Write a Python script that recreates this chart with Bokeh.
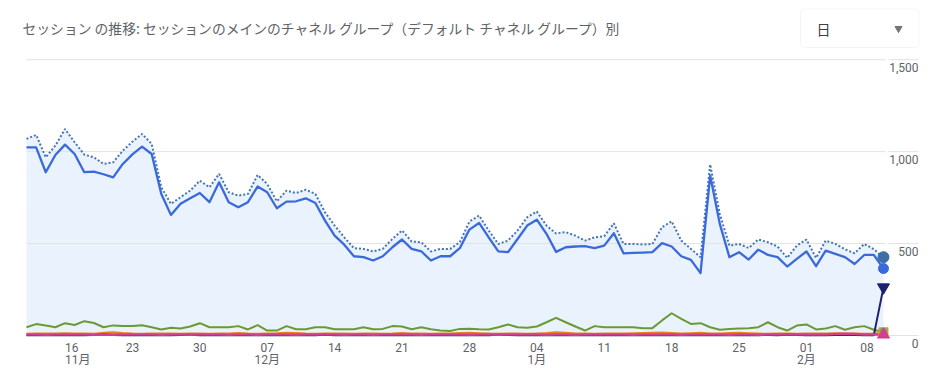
import numpy as np
import pandas as pd
from bokeh.plotting import figure
from bokeh.models import Range1d, ColumnDataSource, LabelSet, BoxAnnotation
from bokeh.core.properties import value
from bokeh.embed import file_html
from bokeh.resources import INLINE

# ---------------- data ----------------
start_date = "2025-11-12"

# dotted line (all sessions)
total_sessions = [
    1069, 1091, 969, 1033, 1123, 1051, 984, 969, 933, 942,
    1005, 1054, 1096, 1042, 806, 716, 752, 788, 842, 806,
    879, 779, 761, 770, 873, 824, 730, 788, 775, 793,
    770, 670, 598, 534, 475, 471, 457, 471, 525, 571,
    511, 507, 457, 471, 471, 507, 620, 652, 571, 498,
    516, 571, 643, 674, 598, 555, 562, 543, 516, 534,
    540, 610, 498, 498, 495, 498, 589, 621, 516, 471,
    426, 930, 661, 489, 498, 476, 522, 507, 484, 422,
    489, 522, 422, 516, 498, 469, 447, 498, 469, 426,
]
# main channel (solid blue)
channel_blue = [
    1023, 1023, 888, 982, 1038, 987, 888, 891, 877, 860,
    933, 985, 1027, 987, 770, 656, 716, 746, 775, 725,
    833, 725, 697, 725, 810, 779, 692, 728, 730, 746,
    721, 625, 543, 494, 431, 426, 408, 431, 480, 522,
    471, 458, 408, 431, 431, 475, 576, 612, 534, 458,
    453, 525, 598, 630, 553, 455, 480, 484, 486, 475,
    489, 556, 447, 449, 451, 453, 502, 484, 431, 411,
    339, 870, 607, 426, 453, 413, 467, 438, 426, 375,
    417, 457, 377, 462, 444, 426, 389, 438, 438, 364,
]
channel_green = [
    45, 62, 54, 45, 67, 57, 78, 68, 45, 55,
    52, 52, 56, 45, 33, 42, 38, 49, 67, 45,
    45, 45, 51, 33, 56, 27, 27, 51, 34, 34,
    45, 45, 34, 34, 34, 45, 34, 36, 51, 49,
    34, 45, 34, 27, 24, 36, 37, 34, 33, 45,
    60, 45, 42, 49, 72, 96, 72, 49, 27, 51,
    45, 45, 45, 45, 40, 40, 82, 121, 91, 63,
    67, 45, 31, 36, 38, 40, 45, 72, 45, 27,
    54, 60, 33, 38, 51, 31, 45, 51, 31, 18,
]
channel_orange = [
    8, 9, 10, 9, 11, 10, 9, 8, 14, 17,
    12, 9, 8, 9, 10, 9, 8, 10, 9, 8,
    9, 10, 12, 9, 8, 10, 11, 14, 12, 9,
    8, 9, 10, 9, 8, 9, 10, 8, 9, 12,
    10, 9, 8, 9, 10, 12, 14, 11, 9, 8,
    10, 9, 8, 10, 12, 16, 13, 10, 9, 8,
    9, 10, 9, 11, 12, 14, 15, 12, 10, 11,
    13, 10, 9, 12, 14, 11, 9, 8, 10, 9,
    8, 9, 10, 9, 11, 10, 9, 8, 9, 12,
]
channel_pink = [
    5, 5, 4, 5, 5, 6, 5, 4, 5, 4,
    5, 5, 6, 5, 4, 5, 5, 4, 5, 6,
    5, 4, 5, 5, 4, 5, 6, 5, 4, 5,
    5, 6, 5, 4, 5, 5, 4, 5, 6, 5,
    5, 4, 5, 5, 6, 5, 4, 5, 5, 4,
    5, 5, 6, 5, 4, 5, 5, 4, 5, 5,
    6, 5, 5, 4, 5, 5, 6, 5, 4, 5,
    5, 6, 5, 4, 5, 5, 4, 5, 6, 7,
    6, 5, 5, 6, 8, 10, 8, 6, 5, 5,
]
channel_navy = [
    2, 1, 2, 1, 2, 1, 2, 3, 5, 3,
    2, 1, 2, 2, 1, 2, 3, 4, 2, 1,
    2, 1, 2, 2, 1, 2, 2, 1, 2, 3,
    2, 4, 2, 1, 2, 1, 2, 2, 3, 2,
    1, 2, 2, 1, 2, 1, 2, 3, 2, 4,
    3, 2, 1, 2, 1, 2, 1, 2, 2, 3,
    2, 3, 2, 2, 1, 2, 2, 1, 2, 3,
    2, 1, 2, 2, 1, 2, 2, 3, 2, 4,
    3, 2, 3, 2, 3, 4, 3, 2, 2, 262,
]

y_ticks = [0, 500, 1000, 1500]
y_tick_labels = ["0", "500", "1,000", "1,500"]
x_tick_dates = ["2025-11-16", "2025-11-23", "2025-11-30", "2025-12-07", "2025-12-14",
                "2025-12-21", "2025-12-28", "2026-01-04", "2026-01-11", "2026-01-18",
                "2026-01-25", "2026-02-01", "2026-02-08"]
x_tick_labels = ["16", "23", "30", "07", "14", "21", "28", "04", "11", "18", "25", "01", "08"]
month_dates = ["2025-11-16", "2025-12-07", "2026-01-04", "2026-02-01"]
month_labels = ["11月", "12月", "1月", "2月"]
title_text = "セッション の推移: セッションのメインのチャネル グループ（デフォルト チャネル グループ）別"
period_text = "日"

# ---------------- layout helpers (page pixels -> data) ----------------
FIG_W, FIG_H = 940, 371
X0_PX, DX_PX = 26.0, 9.629     # page x of first day, px per day
Y0_PX, DY_PX = 335.0, 0.18387  # page y of zero, px per session


def xd(px):
    return (px - X0_PX) / DX_PX


def yd(py):
    return (Y0_PX - py) / DY_PX


def day_index(d):
    return (pd.Timestamp(d) - pd.Timestamp(start_date)).days


n = len(total_sessions)
x = np.arange(n)
last = n - 1

p = figure(width=FIG_W, height=FIG_H,
           x_range=Range1d(xd(0), xd(FIG_W)), y_range=Range1d(yd(FIG_H), yd(0)),
           x_axis_type=None, y_axis_type=None,
           toolbar_location=None, output_backend="svg", min_border=0)
p.outline_line_color = None
p.background_fill_color = "white"
p.border_fill_color = "white"

# area under the total line
p.varea(x=x, y1=np.zeros(n), y2=total_sessions, fill_color="#eaf3fd")

# grid lines
k = len(y_ticks)
p.segment(x0=[0] * k, y0=y_ticks, x1=[xd(885)] * k, y1=y_ticks,
          line_color="#e2e2e2", line_width=1)
p.segment(x0=[xd(888)] * k, y0=y_ticks, x1=[xd(918)] * k, y1=y_ticks,
          line_color="#e2e2e2", line_width=1)

# series
p.line(x, total_sessions, line_color="#4474b2", line_width=2, line_dash="2 2")
p.line(x, channel_blue, line_color="#3a69dc", line_width=2.3, line_join="round")
p.line(x, channel_green, line_color="#6a9a33", line_width=2, line_join="round")
p.line(x, channel_orange, line_color="#e8821e", line_width=2.5, line_join="round")
p.line(x, channel_navy, line_color="#1c2270", line_width=2, line_join="round")
p.line(x, channel_pink, line_color="#d1408e", line_width=2.5, line_join="round")

# end markers
p.scatter([x[last]], [total_sessions[last]], marker="circle", size=11, color="#3d6ea8")
p.scatter([x[last]], [channel_blue[last]], marker="circle", size=10, color="#3a69dc")
p.scatter([x[last]], [channel_navy[last]], marker="inverted_triangle", size=12, color="#1c2270")
p.scatter([x[last]], [channel_green[last]], marker="square", size=9,
          fill_color="#7cab45", line_color="#e2a54a", line_width=1)
p.scatter([x[last]], [channel_pink[last]], marker="triangle", size=12, color="#d1408e")

# y labels (right side, below grid lines)
ysrc = ColumnDataSource(dict(x=[xd(918)] * k, y=y_ticks, text=y_tick_labels))
p.add_layout(LabelSet(x="x", y="y", text="text", source=ysrc, text_align="right",
                      text_baseline="middle", y_offset=-7.5, text_font=value("Roboto"),
                      text_font_size="12px", text_color="#5f6368"))

# x labels
tick_idx = [day_index(d) for d in x_tick_dates]
month_idx = [day_index(d) for d in month_dates]
label_font = value("Roboto, Noto Sans CJK JP")


def add_labels(xs, texts, align, yoff):
    src = ColumnDataSource(dict(x=xs, y=[0] * len(xs), text=texts))
    p.add_layout(LabelSet(x="x", y="y", text="text", source=src, text_align=align,
                          text_baseline="middle", y_offset=yoff, text_font=label_font,
                          text_font_size="12px", text_color="#5f6368"))


add_labels(tick_idx[:1], x_tick_labels[:1], "left", -11.5)
add_labels(tick_idx[1:-1], x_tick_labels[1:-1], "center", -11.5)
add_labels(tick_idx[-1:], x_tick_labels[-1:], "right", -11.5)
add_labels(month_idx[:1], month_labels[:1], "left", -24)
add_labels(month_idx[1:], month_labels[1:], "center", -24)

# title
p.text(x=[xd(22)], y=[yd(27.5)], text=[title_text], text_align="left", text_baseline="middle",
       text_font=value("Noto Sans CJK JP"), text_font_size="13.8px", text_color="#5f6368")

# period dropdown
p.add_layout(BoxAnnotation(left=xd(800), right=xd(918.5), top=yd(8.5), bottom=yd(47),
                           fill_color=None, line_color="#dadce0",
                           line_width=1, border_radius=4))
p.text(x=[xd(816)], y=[yd(28)], text=[period_text], text_align="left", text_baseline="middle",
       text_font=value("Noto Sans CJK JP"), text_font_size="14px", text_color="#3c4043")
p.scatter([xd(898)], [yd(28)], marker="inverted_triangle", size=7, color="#70757a")

open("out.html", "w").write(file_html(p, INLINE))
